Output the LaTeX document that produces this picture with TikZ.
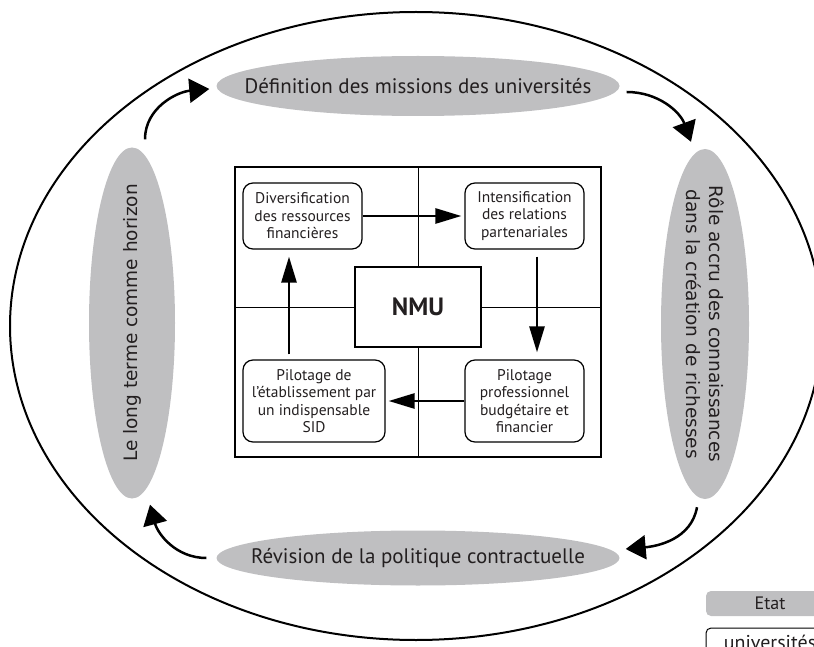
\documentclass[tikz,border=0pt]{standalone}
\usepackage{fontspec}
\setmainfont{PT Sans}
\newfontfamily\rotfont{DejaVu Sans}
\usetikzlibrary{shapes.geometric, arrows.meta}
\definecolor{ellgray}{RGB}{191,191,193}
\definecolor{txt}{RGB}{35,31,32}

\begin{document}
\begin{tikzpicture}[x=1pt, y=1pt,
  phase/.style={ellipse, fill=ellgray, inner sep=0pt},
  phasetext/.style={text=txt, inner sep=0pt, align=center},
  action/.style={draw, line width=1.2pt, rounded corners=10pt, align=center,
    inner sep=0pt, text=txt, font=\fontsize{15.5}{17.5}\selectfont},
  cyc/.style={-{Triangle[length=20pt,width=24pt]}, line width=2.5pt},
  inarr/.style={-{Triangle[length=26pt,width=15pt]}, line width=2.7pt}]

  \clip (0,-647) rectangle (814,0);

  % grand cycle
  \draw[line width=2pt] (416,-326) ellipse [x radius=406, y radius=314];

  \node[phase, minimum width=403pt, minimum height=60pt] (mis) at (418,-86) {};
  \node[phase, minimum width=403pt, minimum height=55pt] (rev) at (418,-558) {};
  \node[phase, minimum width=86pt, minimum height=351pt] (lt) at (132,-323) {};
  \node[phase, minimum width=88pt, minimum height=350pt] (role) at (705,-324) {};

  \node[phasetext, font=\fontsize{21}{24}\selectfont] (mis-t) at (mis) {Définition des missions des universités};
  \node[phasetext, font=\fontsize{21}{24}\selectfont] (rev-t) at (rev) {Révision de la politique contractuelle};
  \node[phasetext, rotate=90, font=\rotfont\fontsize{18.5}{23}\selectfont] (lt-t) at (lt) {Le long terme comme horizon};
  \node[phasetext, rotate=-90, font=\rotfont\fontsize{18.5}{23}\selectfont] (role-t) at (role)
    {Rôle accru des connaissances\\dans la création de richesses};

  % fleches du cycle
  \draw[cyc] ([xshift=13pt,yshift=8pt]lt.north) to[out=90, in=185] ([xshift=-7pt,yshift=-3pt]mis.west);
  \draw[cyc] ([xshift=7pt,yshift=-6pt]mis.east) to[out=0, in=110] ([xshift=-14pt,yshift=7pt]role.north);
  \draw[cyc] ([xshift=-8pt,yshift=-8pt]role.south) to[out=-100, in=5] ([xshift=6pt,yshift=9pt]rev.east);
  \draw[cyc] ([xshift=-10pt]rev.west) to[out=180, in=-75] ([xshift=18pt,yshift=-6pt]lt.south);

  % carre NMU
  \node[draw, line width=1.2pt, minimum width=366pt, minimum height=290pt, inner sep=0pt] (frame) at (418,-312) {};
  \node[draw, line width=1.2pt, minimum width=126pt, minimum height=80pt, inner sep=0pt, text=txt,
    font=\bfseries\fontsize{25}{30}\selectfont] (nmu) at (418,-307) {NMU};
  \draw[line width=1pt] (frame.north) -- (nmu.north);
  \draw[line width=1pt] (nmu.south) -- (frame.south);
  \draw[line width=1pt] (frame.west |- nmu.center) -- (nmu.west);
  \draw[line width=1pt] (nmu.east) -- (frame.east |- nmu.center);

  \node[action, minimum width=119pt, minimum height=66pt] (div) at (302.5,-216)
    {Diversification\\des ressources\\financières};
  \node[action, minimum width=119pt, minimum height=66pt] (ints) at (524.5,-216)
    {Intensification\\des relations\\partenariales};
  \node[action, minimum width=142pt, minimum height=82pt] (pse) at (314,-401)
    {Pilotage de\\l’établissement par\\un indispensable\\SID};
  \node[action, minimum width=119pt, minimum height=82pt] (pbf) at (524.5,-401)
    {Pilotage\\professionnel\\budgétaire et\\financier};

  \draw[inarr, shorten >=3pt] (div.east) -- (ints.west);
  \draw[inarr, shorten <=7pt, shorten >=7pt] ([xshift=12.5pt]ints.south) -- ([xshift=12.5pt]pbf.north);
  \draw[inarr, shorten >=3pt] (pbf.west) -- (pse.east);
  \draw[inarr, shorten <=5pt, shorten >=7pt] ([xshift=-25pt]pse.north) -- ([xshift=-25pt]pse.north |- div.south);

  % legende
  \node[fill=ellgray, rounded corners=5pt, minimum width=128pt, minimum height=25pt, inner sep=0pt,
    text=txt, font=\fontsize{18}{20}\selectfont] (etat) at (770,-603.5) {Etat};
  \node[draw, line width=1pt, rounded corners=5pt, minimum width=128pt, minimum height=28pt, inner sep=0pt,
    text=txt, font=\fontsize{20}{22}\selectfont] (univ) at (770,-642) {universités};
\end{tikzpicture}
\end{document}
